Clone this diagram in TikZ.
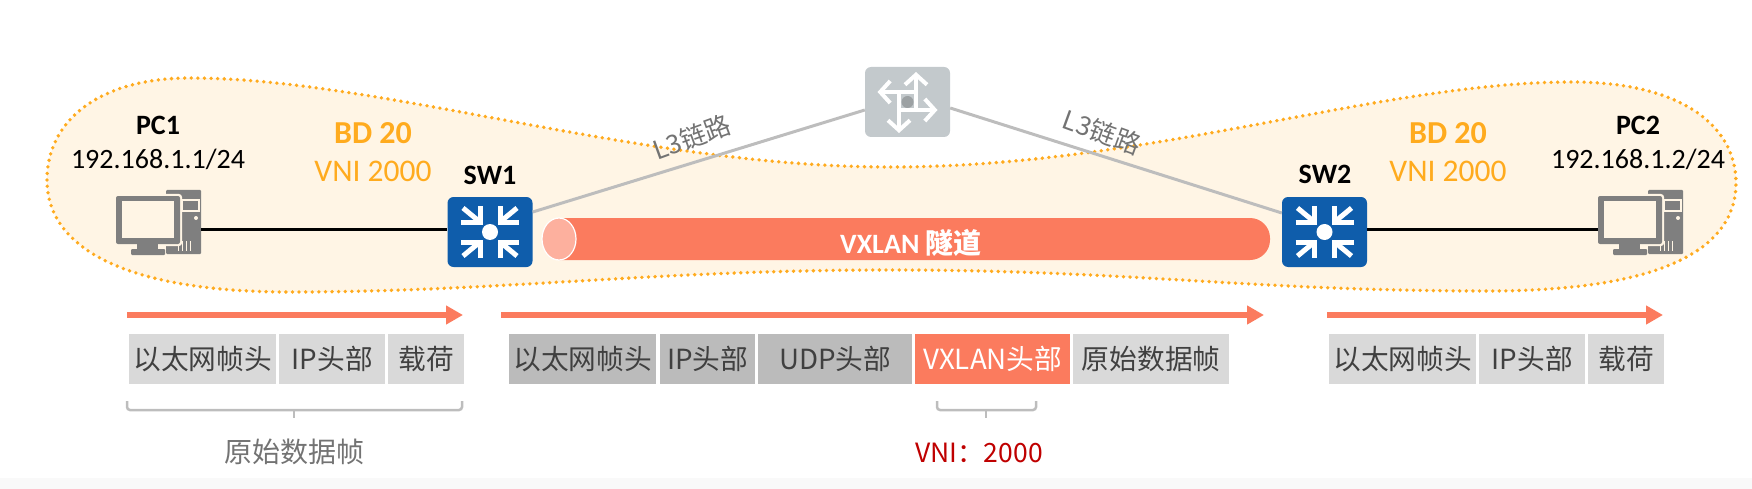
\documentclass[tikz,border=0pt]{standalone}
\usepackage{fontspec}
\setmainfont{Carlito}
\newfontfamily\cjk{Noto Sans CJK SC}
\usetikzlibrary{arrows.meta}
\definecolor{zonefill}{HTML}{FFF5E5}
\definecolor{zoneline}{HTML}{FFAB1E}
\definecolor{swblue}{HTML}{0F5DAB}
\definecolor{rtgray}{HTML}{C3C9CC}
\definecolor{linkgray}{HTML}{BDBDBD}
\definecolor{pcgray}{HTML}{7F7F7F}
\definecolor{coral}{HTML}{FB7B5E}
\definecolor{hdrlite}{HTML}{D9D9D9}
\definecolor{hdrdark}{HTML}{BBBBBB}
\tikzset{
  hdr/.style={anchor=west,minimum height=50pt,inner sep=0pt,text=black!75,font=\cjk\fontsize{27.7}{30}\selectfont},
  name label/.style={font=\bfseries\fontsize{28}{32}\selectfont},
  addr label/.style={font=\fontsize{28}{32}\selectfont},
  bd label/.style={text=zoneline,font=\bfseries\fontsize{32}{36}\selectfont},
  vni label/.style={text=zoneline,font=\fontsize{31.5}{36}\selectfont},
  l3 label/.style={text=black!55,inner sep=0pt,font=\cjk\fontsize{26}{30}\selectfont},
  link/.style={draw=linkgray,line width=3pt},
  flow/.style={draw=coral,line width=6pt,->},
  bracket/.style={draw=linkgray,line width=2.5pt,rounded corners=3pt},
  device/.style={minimum width=85pt,minimum height=70pt,inner sep=0pt},
  pcbox/.style={minimum width=85pt,minimum height=64pt,inner sep=0pt},
}
% switch: four arrows pointing at a dot
\newcommand{\swicon}[1]{
  \begin{scope}[shift={(#1)}]
    \fill[white] (0,0) circle (8);
    \foreach \sx/\sy in {1/1,1/-1,-1/1,-1/-1}{
      \draw[white,line width=5pt] (\sx*29,\sy*10) -- (\sx*10,\sy*10) -- (\sx*10,\sy*26);
      \draw[white,line width=5pt] (\sx*10,\sy*10) -- (\sx*27,\sy*24);
    }
  \end{scope}
}
% computer with tower
\newcommand{\pcicon}[1]{
  \begin{scope}[shift={(#1)},xshift=-158.5pt,yshift=222pt]
    \fill[pcgray,rounded corners=1pt] (166,190) rectangle (201,254);
    \draw[zonefill,line width=1.5pt] (182,200) rectangle (199,211);
    \fill[zonefill] (196,218) circle (2);
    \foreach \vx in {178,182,186,190}
      \draw[zonefill,line width=1pt] (\vx,241) -- (\vx,251);
    \fill[zonefill,rounded corners=3pt] (114,194) rectangle (182,246);
    \fill[pcgray,rounded corners=2pt] (116,196) rectangle (180,244);
    \fill[zonefill] (122,201) rectangle (174,238);
    \fill[pcgray] (137,244) rectangle (158,249);
    \fill[pcgray,rounded corners=1pt] (131,249) rectangle (165,255);
  \end{scope}
}
\begin{document}
\begin{tikzpicture}[x=1pt,y=-1pt,>={Triangle[length=17pt,width=18pt]}]
  \useasboundingbox (0,0) rectangle (1752,489);
  \fill[black!2.5] (0,478) rectangle (1752,489);

  % BD 20 zone
  \draw[zoneline,fill=zonefill,line width=3.8pt,line cap=round,dash pattern=on 0pt off 6.6pt]
    (47,180) .. controls (47,120) and (100,78) .. (190,78)
    .. controls (380,78) and (640,167) .. (890,167)
    .. controls (1150,167) and (1380,82) .. (1572,82)
    .. controls (1680,82) and (1736,125) .. (1736,183)
    .. controls (1736,250) and (1660,291) .. (1487,291)
    .. controls (1250,291) and (1130,270) .. (890,270)
    .. controls (650,270) and (500,292) .. (290,292)
    .. controls (130,292) and (47,250) .. (47,180) -- cycle;

  % devices
  \node[device,fill=swblue,rounded corners=6pt] (sw1) at (490,232) {};
  \node[device,fill=swblue,rounded corners=6pt] (sw2) at (1324.5,232) {};
  \node[device,fill=rtgray,rounded corners=6pt] (rt) at (907.5,102) {};
  \node[pcbox] (pc1) at (158.5,222) {};
  \node[pcbox] (pc2) at (1640.5,222) {};
  \swicon{sw1}
  \swicon{sw2}
  \pcicon{pc1}
  \pcicon{pc2}

  % router arrows
  \begin{scope}[shift={(rt)},white,line width=4pt]
    \fill[rtgray!80!black] (0,0) circle (6);
    \draw[-{Straight Barb[length=10pt,width=22pt]}] (8.5,8) -- (8.5,-30);
    \draw[-{Straight Barb[length=10pt,width=22pt]}] (8.5,-10) -- (-30,-10);
    \draw[-{Straight Barb[length=10pt,width=22pt]}] (-8.5,8) -- (30,8);
    \draw[-{Straight Barb[length=10pt,width=22pt]}] (-8.5,-10) -- (-8.5,31);
  \end{scope}

  % links
  \draw[line width=3pt] ([yshift=-7pt]pc1.east) -- ([yshift=3pt]sw1.west);
  \draw[line width=3pt] ([yshift=3pt]sw2.east) -- ([yshift=-7pt]pc2.west);
  \draw[link] (sw1.east |- 0,212) -- (rt.west |- 0,110);
  \draw[link] (rt.east |- 0,108) -- (sw2.west |- 0,213);
  \node[l3 label,rotate=20] (l3a) at (692,137) {L3链路};
  \node[l3 label,rotate=-20] (l3b) at (1102,132) {L3链路};

  % tunnel
  \fill[coral] (559,218) [rounded corners=20pt] -- (1270,218) -- (1270,260) [sharp corners] -- (559,260) -- cycle;
  \draw[white,fill=coral!60!white,line width=1.2pt] (559,239) ellipse (17 and 21);
  \node[text=white,font=\bfseries\fontsize{28}{32}\selectfont] (tun) at (911,243) {VXLAN {\cjk 隧道}};

  % labels
  \node[name label] (pc1n) at (158,125) {PC1};
  \node[addr label] (pc1a) at (158,159) {192.168.1.1/24};
  \node[name label] (pc2n) at (1638,125) {PC2};
  \node[addr label] (pc2a) at (1638,159) {192.168.1.2/24};
  \node[name label] (sw1n) at (490,175) {SW1};
  \node[name label] (sw2n) at (1325,174) {SW2};
  \node[bd label] (bd1) at (373,133) {BD 20};
  \node[vni label] (vni1) at (373,171) {VNI 2000};
  \node[bd label] (bd2) at (1448,133) {BD 20};
  \node[vni label] (vni2) at (1448,171) {VNI 2000};

  % flow arrows
  \coordinate (f1a) at (127,315);
  \coordinate (f1b) at (463,315);
  \coordinate (f2a) at (501,315);
  \coordinate (f2b) at (1264,315);
  \coordinate (f3a) at (1327,315);
  \coordinate (f3b) at (1663,315);
  \draw[flow] (f1a) -- (f1b);
  \draw[flow] (f2a) -- (f2b);
  \draw[flow] (f3a) -- (f3b);

  % PC1 frame
  \node[hdr,fill=hdrlite,minimum width=147pt] (a1) at (129,359) {以太网帧头};
  \node[hdr,fill=hdrlite,minimum width=106pt] (a2) at (279,359) {IP头部};
  \node[hdr,fill=hdrlite,minimum width=76pt] (a3) at (388,359) {载荷};

  % VXLAN frame
  \node[hdr,fill=hdrdark,minimum width=147pt] (b1) at (509,359) {以太网帧头};
  \node[hdr,fill=hdrdark,minimum width=95pt] (b2) at (660,359) {IP头部};
  \node[hdr,fill=hdrdark,minimum width=154pt] (b3) at (758,359) {UDP头部};
  \node[hdr,fill=coral,text=white,minimum width=155pt] (b4) at (915,359) {VXLAN头部};
  \node[hdr,fill=hdrlite,minimum width=156pt] (b5) at (1073,359) {原始数据帧};

  % PC2 frame
  \node[hdr,fill=hdrlite,minimum width=147pt] (c1) at (1329,359) {以太网帧头};
  \node[hdr,fill=hdrlite,minimum width=106pt] (c2) at (1479,359) {IP头部};
  \node[hdr,fill=hdrlite,minimum width=76pt] (c3) at (1588,359) {载荷};

  % brackets
  \draw[bracket] (127,401) -- (127,410) -- (462,410) -- (462,401);
  \draw[draw=linkgray,line width=2.5pt] (294,410) -- (294,418);
  \draw[bracket] (937,401) -- (937,410) -- (1036,410) -- (1036,401);
  \draw[draw=linkgray,line width=2.5pt] (986,410) -- (986,418);
  \node[text=black!55,font=\cjk\fontsize{28}{32}\selectfont] (orig) at (294,452) {原始数据帧};
  \node[text=red!75!black,font=\cjk\fontsize{26.5}{30}\selectfont] (vnival) at (979,453) {VNI：2000};
\end{tikzpicture}
\end{document}
